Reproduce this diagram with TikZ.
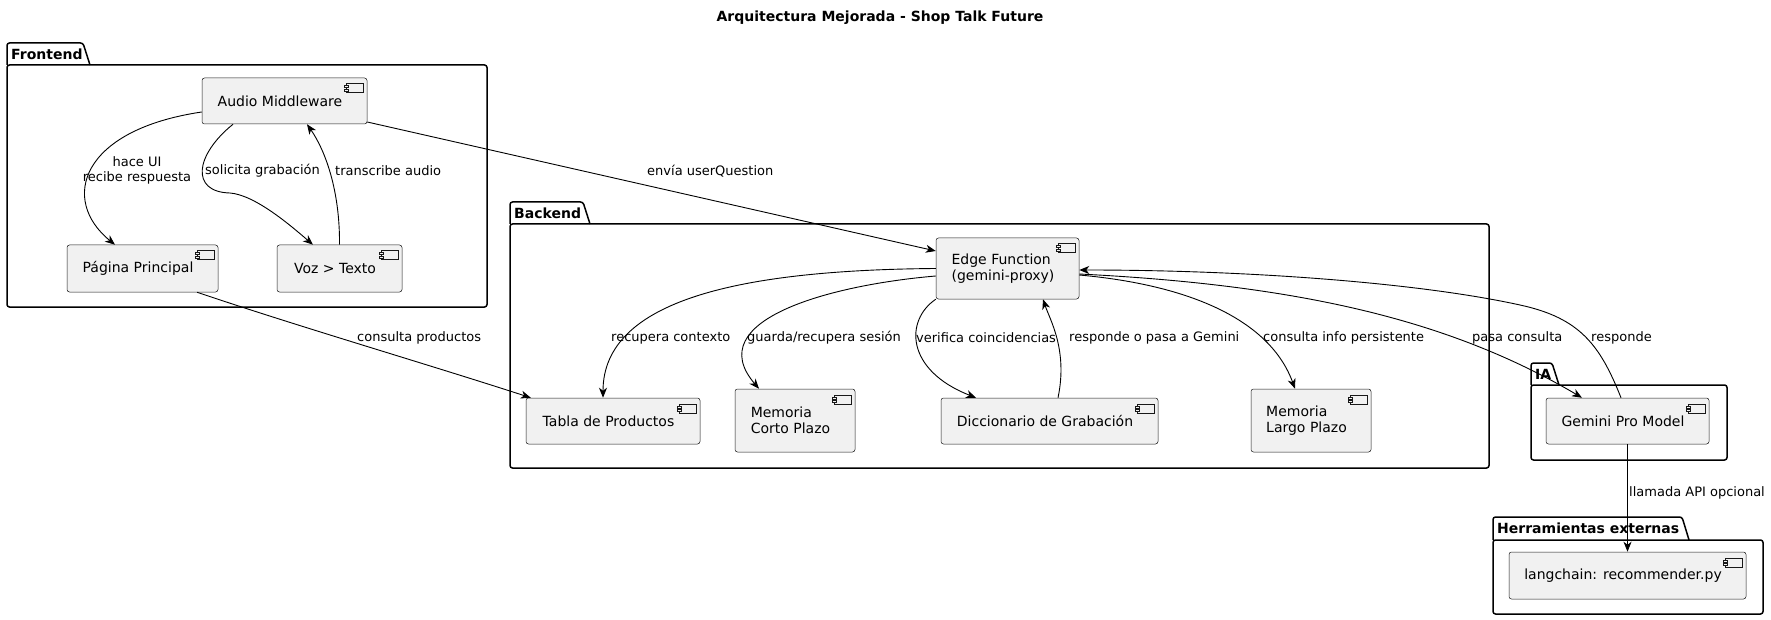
\documentclass[tikz,border=0pt]{standalone}
\usepackage{fontspec}
\setmainfont{DejaVu Sans}
\usetikzlibrary{arrows.meta}
\definecolor{compfill}{HTML}{F1F1F1}
\definecolor{compdraw}{HTML}{181818}
\newcommand{\cshift}{\hspace*{-9pt}}

\begin{document}
\begin{tikzpicture}[x=1pt,y=-1pt,
    comp/.style={draw=compdraw,line width=0.5pt,fill=compfill,rounded corners=2.5pt,
      inner sep=0pt,align=left,font=\fontsize{14pt}{16.5pt}\selectfont},
    icon/.style={draw=compdraw,line width=0.5pt,fill=compfill},
    pkgline/.style={draw=black,line width=1.5pt,rounded corners=2.5pt},
    pkglabel/.style={inner sep=0pt,font=\fontsize{14pt}{16pt}\selectfont\bfseries},
    conn/.style={draw=black,line width=0.9pt,-{Stealth[length=10pt,width=8pt,inset=3pt]}},
    lbl/.style={inner sep=0pt,font=\fontsize{13pt}{15pt}\selectfont}]
        \useasboundingbox (0,0) rectangle (1771,620);

        \node[pkglabel] (title) at (880,18) {Arquitectura Mejorada - Shop Talk Future};

        \foreach \key/\name/\xl/\yt/\yb/\xr/\ye/\xt in {
            fe/Frontend/7/43/65/487/307/83,
            be/Backend/510/202/224/1489/468/583,
            ia/IA/1531/363/385/1727/460/1552,
            he/Herramientas externas/1493/517/540/1763/614/1682} {
            \draw[pkgline] (\xl,\yb) rectangle (\xr,\ye);
            \draw[pkgline] (\xl,\yb) -- (\xl,\yt) -- (\xt,\yt) -- ({\xt+7},\yb);
            \node[pkglabel,anchor=west] (\key) at ({\xl+4},{(\yt+\yb)/2}) {\name};
        }

        \node[comp,minimum width=165pt,minimum height=46pt] (am) at (284.5,101) {\cshift Audio Middleware};
        \node[comp,minimum width=151pt,minimum height=47pt] (pp) at (142.5,268.5) {\cshift Página Principal};
        \node[comp,minimum width=125pt,minimum height=47pt] (voz) at (339.5,268.5) {\cshift Voz > Texto};
        \node[comp,minimum width=143pt,minimum height=61pt] (edge) at (1007.5,268.5) {\cshift Edge Function\\\cshift (gemini-proxy)};
        \node[comp,minimum width=174pt,minimum height=46pt] (tabla) at (613,421) {\cshift Tabla de Productos};
        \node[comp,minimum width=120pt,minimum height=63pt] (mc) at (795,420.5) {\cshift Memoria\\\cshift Corto Plazo};
        \node[comp,minimum width=217pt,minimum height=46pt] (dicc) at (1049.5,421) {\cshift Diccionario de Grabación};
        \node[comp,minimum width=120pt,minimum height=63pt] (ml) at (1311,420.5) {\cshift Memoria\\\cshift Largo Plazo};
        \node[comp,minimum width=163pt,minimum height=46pt] (gem) at (1627.5,421) {\cshift Gemini Pro Model};
        \node[comp,minimum width=237pt,minimum height=47pt] (lc) at (1627.5,575.5) {\cshift langchain: recommender.py};

        \foreach \n in {am,pp,voz,edge,tabla,mc,dicc,ml,gem,lc} {
            \draw[icon] ([shift={(-21pt,-6pt)}]\n.north east) rectangle ([shift={(-4pt,-15pt)}]\n.north east);
            \draw[icon] ([shift={(-23pt,-8pt)}]\n.north east) rectangle ([shift={(-19pt,-10pt)}]\n.north east);
            \draw[icon] ([shift={(-23pt,-11.5pt)}]\n.north east) rectangle ([shift={(-19pt,-13.5pt)}]\n.north east);
        }

        \draw[conn] ([yshift=-11pt]am.west) .. controls (80,130) and (60,200) .. ([xshift=-27.5pt]pp.north);
        \draw[conn] ([xshift=-51.5pt]am.south) .. controls (195,155) and (190,192) .. (230,193)
            .. controls (255,195) and (290,225) .. ([xshift=-26.5pt]voz.north);
        \draw[conn] (voz.north) .. controls (340,190) and (325,150) .. ([xshift=22.5pt]am.south);
        \draw[conn] ([yshift=-21pt]am.east) -- ([yshift=17.5pt]edge.west);
        \draw[conn] ([xshift=54.5pt]pp.south) .. controls (300,327) and (430,365) .. ([xshift=5pt]tabla.north west);
        \draw[conn] (edge.west) .. controls (740,270) and (603,300) .. ([xshift=-10pt]tabla.north);
        \draw[conn] ([yshift=-7.5pt]edge.west) .. controls (830,285) and (700,320) .. ([xshift=-36pt]mc.north);
        \draw[conn] (edge.south west) .. controls (905,320) and (905,370) .. ([xshift=-73.5pt]dicc.north);
        \draw[conn] ([xshift=8.5pt]dicc.north) .. controls (1068,350) and (1050,320) .. ([xshift=35.5pt]edge.south);
        \draw[conn] ([yshift=-6.5pt]edge.east) .. controls (1190,285) and (1270,320) .. ([xshift=-16pt]ml.north);
        \draw[conn] ([yshift=-5.5pt]edge.east) .. controls (1300,285) and (1450,320) .. ([xshift=-45.5pt]gem.north);
        \draw[conn] ([xshift=-6.5pt]gem.north) .. controls (1600,345) and (1580,318) .. (1520,305)
            .. controls (1420,283) and (1250,270) .. ([yshift=-1.5pt]edge.east);
        \draw[conn] (gem.south) -- (lc.north);

        \node[lbl,align=center] (l-hace) at (137,170) {hace UI\\recibe respuesta};
        \node[lbl,anchor=west] (l-solicita) at (205,171) {solicita grabación};
        \node[lbl,anchor=west] (l-transcribe) at (335,171) {transcribe audio};
        \node[lbl,anchor=west] (l-envia) at (647,171) {envía userQuestion};
        \node[lbl,anchor=west] (l-productos) at (357,338) {consulta productos};
        \node[lbl,anchor=west] (l-contexto) at (611,338) {recupera contexto};
        \node[lbl,anchor=west] (l-sesion) at (747,338) {guarda/recupera sesión};
        \node[lbl,anchor=west] (l-verifica) at (916,338) {verifica coincidencias};
        \node[lbl,anchor=west] (l-responde-o) at (1069,338) {responde o pasa a Gemini};
        \node[lbl,anchor=west] (l-persistente) at (1263,338) {consulta info persistente};
        \node[lbl,anchor=west] (l-pasa) at (1472,338) {pasa consulta};
        \node[lbl,anchor=west] (l-responde) at (1591,338) {responde};
        \node[lbl,anchor=west] (l-llamada) at (1629,493) {llamada API opcional};
    \end{tikzpicture}
\end{document}
